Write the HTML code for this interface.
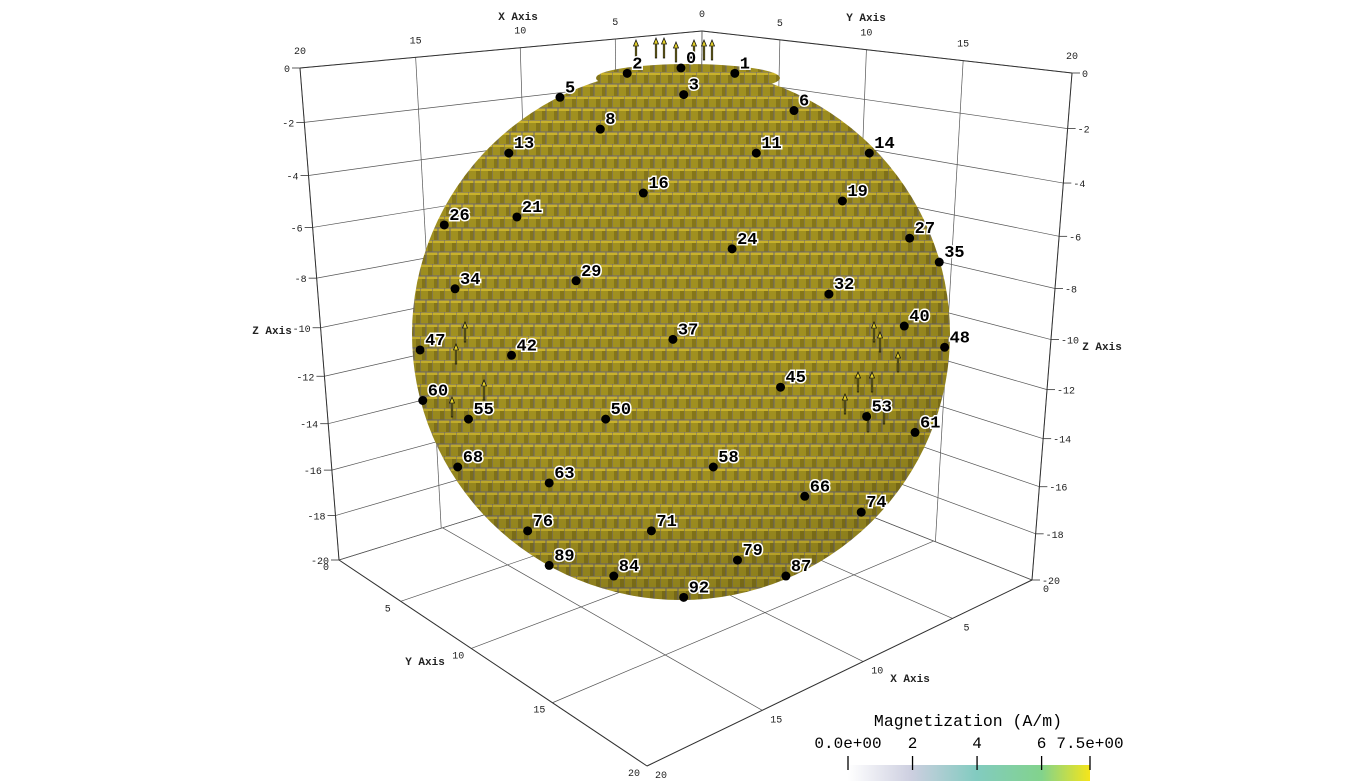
<!DOCTYPE html>
<html><head><meta charset="utf-8"><style>
body{margin:0;background:#fff;}
svg{display:block;font-family:"Liberation Mono",monospace;}
.tk{font-size:10px;fill:#222;}
.ax{font-size:11px;fill:#222;font-weight:bold;}
.pl{font-size:17px;font-weight:bold;fill:#000;stroke:#fff;stroke-width:3px;paint-order:stroke;}
</style></head><body>
<svg id="c" width="1361" height="784" viewBox="0 0 1361 784">
<defs>
<pattern id="vox" width="12" height="24" patternUnits="userSpaceOnUse">
<rect width="12" height="24" fill="#a09020"/>
<path d="M0 0H12V3H0Z M6 12H12V15H6Z M0 12H6V15H0Z" fill="#c9b22b"/>
<rect x="8" y="3" width="4" height="9" fill="#85761a"/>
<rect x="2" y="15" width="4" height="9" fill="#85761a"/>
<path d="M0 0H12M0 0V12M6 12V24M0 12H12" stroke="#6a6670" stroke-width="1"/>
</pattern>
<radialGradient id="shade" cx="0.45" cy="0.4" r="0.6">
<stop offset="0.65" stop-color="#000" stop-opacity="0"/>
<stop offset="1" stop-color="#000" stop-opacity="0.12"/>
</radialGradient>
<linearGradient id="cb" x1="0" x2="1">
<stop offset="0" stop-color="#ffffff"/>
<stop offset="0.26" stop-color="#cdcfe0"/>
<stop offset="0.53" stop-color="#82cbc0"/>
<stop offset="0.8" stop-color="#82d38c"/>
<stop offset="1" stop-color="#f5e51a"/>
</linearGradient>
</defs>
<g id="grid"></g>
<g id="sphere">
<ellipse cx="681" cy="334" rx="269" ry="266" fill="url(#vox)"/>
<ellipse cx="681" cy="334" rx="269" ry="266" fill="url(#shade)"/>
<ellipse cx="688" cy="78" rx="92" ry="14" fill="url(#vox)"/>
</g>
<g id="arrows"></g>
<g id="pts"></g>
<g id="cbar">
<text x="968" y="726" text-anchor="middle" style="font-size:16.5px">Magnetization (A/m)</text>
<rect x="848" y="765" width="242" height="16" fill="url(#cb)"/>
</g>
</svg>
<script>
const NS="http://www.w3.org/2000/svg";
// axis ticks
const xyTicks=[0,5,10,15,20];
const zTicks=[0,-2,-4,-6,-8,-10,-12,-14,-16,-18,-20];
// probe point ids and normalized projected coords on sphere disk
const ptIds=[0,1,2,3,5,6,8,11,13,14,16,19,21,24,26,27,29,32,34,35,37,40,42,45,47,48,50,53,55,58,60,61,63,66,68,71,74,76,79,84,87,89,92];
const ptU=[0,0.2,-0.2,0.01,-0.45,0.42,-0.3,0.28,-0.64,0.7,-0.14,0.6,-0.61,0.19,-0.88,0.85,-0.39,0.55,-0.84,0.96,-0.03,0.83,-0.63,0.37,-0.97,0.98,-0.28,0.69,-0.79,0.12,-0.96,0.87,-0.49,0.46,-0.83,-0.11,0.67,-0.57,0.21,-0.25,0.39,-0.49,0.01];
const ptV=[-1,-0.98,-0.98,-0.9,-0.89,-0.84,-0.77,-0.68,-0.68,-0.68,-0.53,-0.5,-0.44,-0.32,-0.41,-0.36,-0.2,-0.15,-0.17,-0.27,0.02,-0.03,0.08,0.2,0.06,0.05,0.32,0.31,0.32,0.5,0.25,0.37,0.56,0.61,0.5,0.74,0.67,0.74,0.85,0.91,0.91,0.87,0.99];
// colorbar
const cbTicks=[0,2,4,6,7.5];
const cbLabels=["0.0e+00","2","4","6","7.5e+00"];
const cbMax=7.5;

function solve(A,b){const n=b.length;for(let i=0;i<n;i++){let m=i;for(let k=i+1;k<n;k++)if(Math.abs(A[k][i])>Math.abs(A[m][i]))m=k;[A[i],A[m]]=[A[m],A[i]];[b[i],b[m]]=[b[m],b[i]];for(let k=i+1;k<n;k++){const f=A[k][i]/A[i][i];for(let j=i;j<n;j++)A[k][j]-=f*A[i][j];b[k]-=f*b[i];}}const x=new Array(n);for(let i=n-1;i>=0;i--){let s=b[i];for(let j=i+1;j<n;j++)s-=A[i][j]*x[j];x[i]=s/A[i][i];}return x;}
function homog(src,dst){const A=[],b=[];for(let i=0;i<4;i++){const[u,v]=src[i],[x,y]=dst[i];A.push([u,v,1,0,0,0,-u*x,-v*x]);b.push(x);A.push([0,0,0,u,v,1,-u*y,-v*y]);b.push(y);}const h=solve(A,b);return(u,v)=>{const w=h[6]*u+h[7]*v+1;return[(h[0]*u+h[1]*v+h[2])/w,(h[3]*u+h[4]*v+h[5])/w];};}
const P={A:[300,68],B:[702,31],C:[1072,73],D:[339,560],E:[1032,580],F:[647,766],G:[699,448]};
const wallL=homog([[20,0],[0,0],[0,-20],[20,-20]],[P.A,P.B,P.G,P.D]);
const wallR=homog([[0,0],[20,0],[20,-20],[0,-20]],[P.B,P.C,P.E,P.G]);
const floor=homog([[0,0],[20,0],[20,20],[0,20]],[P.G,P.D,P.F,P.E]);
const grid=document.getElementById('grid');
function line(a,b,name,w,col){const l=document.createElementNS(NS,'line');l.setAttribute('x1',a[0]);l.setAttribute('y1',a[1]);l.setAttribute('x2',b[0]);l.setAttribute('y2',b[1]);l.setAttribute('stroke',col||'#555');l.setAttribute('stroke-width',w||0.7);


grid.appendChild(l);}
function text(x,y,s,cls,name,anchor){const t=document.createElementNS(NS,'text');t.setAttribute('x',x);t.setAttribute('y',y);t.setAttribute('class',cls);t.setAttribute('text-anchor',anchor||'middle');t.textContent=s;


grid.appendChild(t);}
xyTicks.forEach(v=>{line(wallL(v,0),wallL(v,-20),'grid-line-x');line(wallR(v,0),wallR(v,-20),'grid-line-y');line(floor(v,0),floor(v,20),'grid-line-x');line(floor(0,v),floor(20,v),'grid-line-y');});
zTicks.forEach(v=>{line(wallL(20,v),wallL(0,v),'grid-line-z');line(wallR(0,v),wallR(20,v),'grid-line-z');});
[[P.A,P.B],[P.B,P.C],[P.A,P.D],[P.C,P.E],[P.D,P.F],[P.F,P.E]].forEach(e=>line(e[0],e[1],'box-edge',1,'#333'));
xyTicks.forEach(v=>{let p=wallL(v,0);text(p[0],p[1]-14,String(v),'tk','x-top-tick');
 if(v>0){p=wallR(v,0);text(p[0],p[1]-14,String(v),'tk','y-top-tick');}
 p=floor(20,v);text(p[0]-13,p[1]+10,String(v),'tk','y-bottom-tick');
 p=floor(v,20);text(p[0]+14,p[1]+12,String(v),'tk','x-bottom-tick');});
zTicks.forEach(v=>{let p=wallL(20,v);line(p,[p[0]-8,p[1]],'z-tick',0.8,'#333');text(p[0]-10,p[1]+4,String(v),'tk','z-left-tick','end');
 p=wallR(20,v);line(p,[p[0]+8,p[1]],'z-tick',0.8,'#333');text(p[0]+10,p[1]+4,String(v),'tk','z-right-tick','start');});
text(518,20,'X Axis','ax','x-axis-title-top');text(866,21,'Y Axis','ax','y-axis-title-top');
text(272,334,'Z Axis','ax','z-axis-title-left');text(1102,350,'Z Axis','ax','z-axis-title-right');
text(425,665,'Y Axis','ax','y-axis-title-bottom');text(910,682,'X Axis','ax','x-axis-title-bottom');
const ar=document.getElementById('arrows');
const arrowPos=[[636,48],[656,46],[664,46],[676,50],[694,48],[704,48],[712,48],[465,330],[456,352],[484,388],[452,405],[880,340],[874,330],[898,360],[858,380],[845,402],[872,380],[884,412],[868,420]];
arrowPos.forEach(p=>{const g=document.createElementNS(NS,'path');g.setAttribute('d',`M${p[0]} ${p[1]-8}l-2.5 6h1.8v14h1.4v-14h1.8z`);g.setAttribute('fill','#e2cf2a');g.setAttribute('stroke','#111');g.setAttribute('stroke-width','0.8');


ar.appendChild(g);});
const pts=document.getElementById('pts');
const cx=681,cy=334,rx=269,ry=266;
ptIds.forEach((id,i)=>{const x=cx+ptU[i]*rx,y=cy+ptV[i]*ry;
 const c=document.createElementNS(NS,'circle');c.setAttribute('cx',x);c.setAttribute('cy',y);c.setAttribute('r',4.5);c.setAttribute('fill','#000');
 
 
 pts.appendChild(c);
 const t=document.createElementNS(NS,'text');t.setAttribute('x',x+5);t.setAttribute('y',y-5);t.setAttribute('class','pl');t.textContent=String(id);
 
 
 pts.appendChild(t);});
const cbar=document.getElementById('cbar');
const cbx=v=>848+v/cbMax*242;
cbTicks.forEach((v,i)=>{const x=cbx(v);const l=document.createElementNS(NS,'line');l.setAttribute('x1',x);l.setAttribute('x2',x);l.setAttribute('y1',756);l.setAttribute('y2',770);l.setAttribute('stroke','#000');l.setAttribute('stroke-width','1.3');
 
 
 cbar.appendChild(l);
 const t=document.createElementNS(NS,'text');t.setAttribute('x',x);t.setAttribute('y',748);t.setAttribute('text-anchor','middle');t.setAttribute('style','font-size:16px');t.textContent=cbLabels[i];
 
 
 cbar.appendChild(t);});
</script>
</body></html>
